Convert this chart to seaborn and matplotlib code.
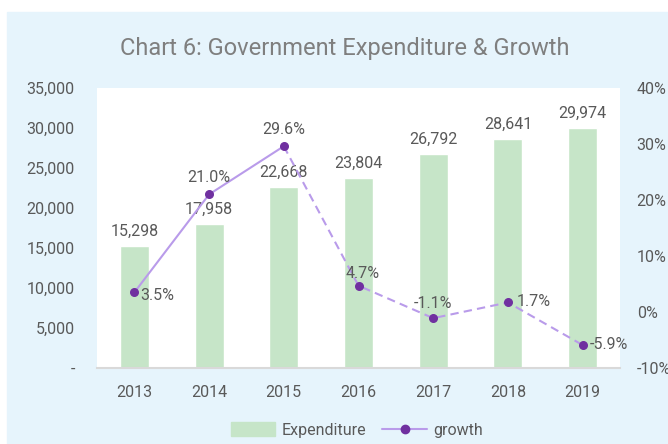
import matplotlib
matplotlib.use("Agg")
import matplotlib.pyplot as plt
import matplotlib.patches as mpatches
from matplotlib.lines import Line2D
import pandas as pd
import seaborn as sns

years       = ["2013", "2014", "2015", "2016", "2017", "2018", "2019"]
expenditure = [15298, 17958, 22668, 23804, 26792, 28641, 29974]
growth      = [3.5, 21.0, 29.6, 4.7, -1.1, 1.7, -5.9]

BAR_GREEN  = "#C6E5C8"
LINE_PURP  = "#B99BEA"
MARK_PURP  = "#7030A0"
TEXT_GRAY  = "#595959"
BG_BLUE    = "#E6F4FC"

sns.set_style("white")
plt.rcParams["font.family"] = ["Roboto", "DejaVu Sans"]

fig = plt.figure(figsize=(6.68, 4.44), dpi=100)
fig.patches.append(mpatches.Rectangle((7 / 668, 0), 1, (444 - 12) / 444,
                                      transform=fig.transFigure, color=BG_BLUE, zorder=-1))
ax = fig.add_axes([97 / 668, 76 / 444, 523 / 668, 280 / 444])
ax.set_facecolor("white")

df = pd.DataFrame({"year": years, "exp": expenditure, "growth": growth})
sns.barplot(data=df, x="year", y="exp", color=BAR_GREEN, width=0.39,
            saturation=1, ax=ax, zorder=2)
ax.set_ylim(0, 35000)
ax.set_yticks(range(0, 35001, 5000))
ax.set_yticklabels(["-"] + [f"{v:,}" for v in range(5000, 35001, 5000)])
ax.set_xlabel("")
ax.set_ylabel("")
ax.tick_params(axis="both", length=0, labelsize=11.5, colors=TEXT_GRAY, pad=16)
ax.tick_params(axis="x", pad=12)
ax.set_xlim(-0.5, len(years) - 0.5)
for s in ["top", "right", "left"]:
    ax.spines[s].set_visible(False)
ax.spines["bottom"].set_color("#D9D9D9")
ax.spines["bottom"].set_linewidth(1.5)
for i, v in enumerate(expenditure):
    ax.text(i, v + 900, f"{v:,}", ha="center", va="bottom", fontsize=11.5, color=TEXT_GRAY)

ax2 = ax.twinx()
ax2.set_ylim(-10, 40)
ax2.set_yticks(range(-10, 41, 10))
ax2.set_yticklabels([f"{v}%" for v in range(-10, 41, 10)])
ax2.tick_params(axis="y", length=0, labelsize=11.5, colors=TEXT_GRAY, pad=12)
for s in ax2.spines.values():
    s.set_visible(False)

xs = list(range(len(years)))
ax2.plot(xs[:3], growth[:3], color=LINE_PURP, lw=1.5, zorder=3)
ax2.plot(xs[2:], growth[2:], color=LINE_PURP, lw=1.5, ls=(0, (4, 2.5)), zorder=3)
ax2.scatter(xs, growth, color=MARK_PURP, s=30, zorder=4)

offsets = [(0.08, -0.6, "left", "center"), (0, 1.6, "center", "bottom"),
           (0, 1.6, "center", "bottom"), (0.06, 0.9, "center", "bottom"),
           (0, 1.2, "center", "bottom"), (0.12, 0.2, "left", "center"),
           (0.1, 0.1, "left", "center")]
for i, (g, (dx, dy, ha, va)) in enumerate(zip(growth, offsets)):
    ax2.text(i + dx, g + dy, f"{g:.1f}%", ha=ha, va=va, fontsize=11.5, color=TEXT_GRAY)

fig.text(345 / 668, 1 - 48 / 444, "Chart 6: Government Expenditure & Growth",
         ha="center", va="center", fontsize=17, color="#7F7F7F")

handles = [mpatches.Patch(color=BAR_GREEN, label="Expenditure"),
           Line2D([0], [0], color=LINE_PURP, lw=1.5, marker="o", markersize=6,
                  markerfacecolor=MARK_PURP, markeredgecolor=MARK_PURP, label="growth")]
fig.legend(handles=handles, loc="center", bbox_to_anchor=(357 / 668, 1 - 430 / 444),
           ncol=2, frameon=False, fontsize=11.5, labelcolor=TEXT_GRAY,
           handlelength=2.8, handleheight=0.9, columnspacing=1.0, handletextpad=0.4)

fig.savefig("out.png", dpi=100, facecolor="white")
